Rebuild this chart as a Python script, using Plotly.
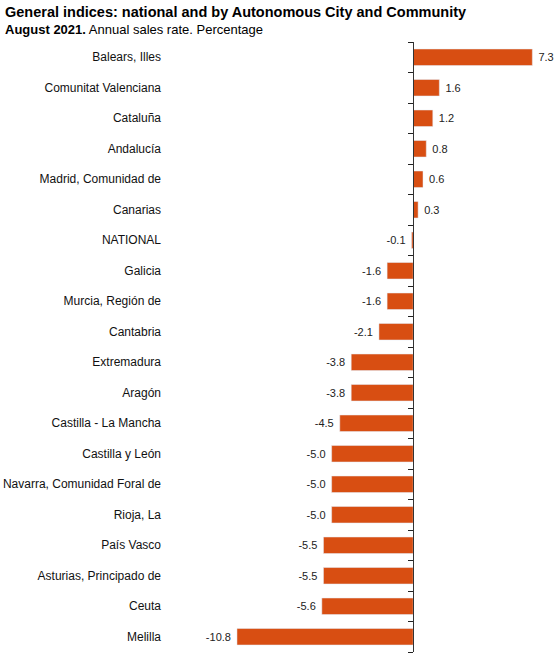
import plotly.graph_objs as go

regions = ['Balears, Illes', 'Comunitat Valenciana', 'Cataluña', 'Andalucía',
           'Madrid, Comunidad de', 'Canarias', 'NATIONAL', 'Galicia',
           'Murcia, Región de', 'Cantabria', 'Extremadura', 'Aragón',
           'Castilla - La Mancha', 'Castilla y León', 'Navarra, Comunidad Foral de',
           'Rioja, La', 'País Vasco', 'Asturias, Principado de', 'Ceuta', 'Melilla']
rates = [7.3, 1.6, 1.2, 0.8, 0.6, 0.3, -0.1, -1.6, -1.6, -2.1,
         -3.8, -3.8, -4.5, -5.0, -5.0, -5.0, -5.5, -5.5, -5.6, -10.8]

title_main = '<b>General indices: national and by Autonomous City and Community</b>'
title_sub = '<b>August 2021.</b> Annual sales rate. Percentage'

bar_color = '#D84E12'
font = 'Liberation Sans, Arial, sans-serif'

# x range picked so zero sits about where the reference axis is
x_min, x_max = -15.15, 8.75
zero_pos = -x_min / (x_max - x_min)
n = len(regions)

data = [
    go.Bar(x=rates, y=regions, orientation='h',
           marker=dict(color=bar_color, line=dict(width=0)),
           texttemplate=' %{x:.1f} ', textposition='outside',
           textfont=dict(size=11, color='#222', family=font),
           cliponaxis=False, hoverinfo='skip', showlegend=False),
    # invisible copy on y2 (by position) so the axis at zero gets drawn
    go.Bar(x=rates, y=list(range(n)), orientation='h', yaxis='y2',
           marker=dict(color='rgba(0,0,0,0)'), hoverinfo='skip', showlegend=False),
]

layout = go.Layout(
    width=556, height=656,
    margin=dict(l=166, r=0, t=42, b=4),
    paper_bgcolor='white', plot_bgcolor='white',
    font=dict(family=font, size=12, color='#111'),
    bargap=0.46,
    xaxis=dict(range=[x_min, x_max], showgrid=False, zeroline=False,
               showticklabels=False, showline=False, ticks=''),
    yaxis=dict(type='category', categoryorder='array', categoryarray=regions,
               autorange='reversed', showgrid=False, showline=False, ticks='',
               tickfont=dict(size=12, family=font, color='#111'), ticklabelstandoff=4),
    # axis at zero: the vertical line plus the ticks between categories
    yaxis2=dict(type='linear', range=[n - 0.5, -0.5], tickmode='linear',
                tick0=-0.5, dtick=1, overlaying='y', anchor='free', position=zero_pos,
                side='left', showline=True, linecolor='#333', linewidth=1,
                ticks='outside', ticklen=5, tickwidth=1, tickcolor='#222',
                layer='above traces', showticklabels=False, showgrid=False,
                zeroline=False),
    annotations=[
        dict(text=title_main, xref='paper', yref='paper', x=-0.418, y=1.049,
             xanchor='left', yanchor='middle', showarrow=False,
             font=dict(size=14.5, family=font, color='#000')),
        dict(text=title_sub, xref='paper', yref='paper', x=-0.418, y=1.0213,
             xanchor='left', yanchor='middle', showarrow=False,
             font=dict(size=13, family=font, color='#000')),
    ],
)

fig = go.Figure(data=data, layout=layout)
fig.write_html('out.html', config={'displayModeBar': False},
               post_script="document.body.style.margin='0';")
